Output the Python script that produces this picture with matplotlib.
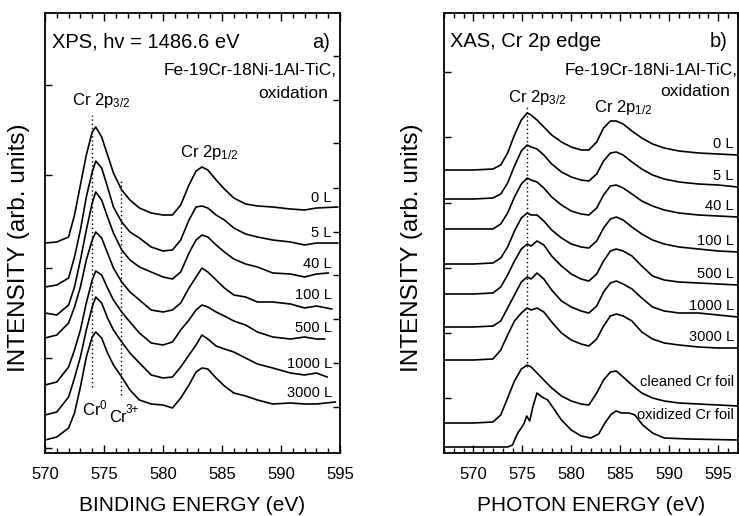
import numpy as np
import matplotlib
matplotlib.use('Agg')
import matplotlib.pyplot as plt
from matplotlib.ticker import MultipleLocator, FixedLocator

plt.rcParams['font.family'] = ['Liberation Sans', 'DejaVu Sans']
plt.rcParams['mathtext.fontset'] = 'custom'
plt.rcParams['mathtext.rm'] = 'Liberation Sans'
plt.rcParams['mathtext.it'] = 'Liberation Sans'
plt.rcParams['mathtext.default'] = 'regular'

# ---- a) XPS Cr 2p, binding energy grid (eV) ----
xps_e = [570, 571, 572, 572.5, 573, 573.5, 574, 574.3, 574.8, 575.3, 575.8, 576.5,
         577.2, 578, 579, 580, 580.8, 581.5, 582.2, 582.8, 583.3, 583.8, 584.5, 585.2,
         586, 587, 588, 589.3, 590.8, 592, 593, 594.5]
xps_labels = ['0 L', '5 L', '40 L', '100 L', '500 L', '1000 L', '3000 L']
xps_end = [594.8, 594.8, 594.0, 594.3, 593.7, 593.9, 594.6]
xps_0 = [210, 211, 216, 238, 268, 298, 321, 326, 316, 298, 280, 263, 253, 245, 240, 238,
         238, 248, 268, 282, 286, 283, 273, 264, 255, 249, 247, 246, 244, 243, 245, 246]
xps_5 = [166, 168, 175, 196, 223, 256, 281, 292, 285, 266, 246, 231, 221, 215, 206, 202,
         203, 213, 233, 246, 247, 245, 238, 233, 225, 219, 216, 213, 211, 208, 210, 210]
xps_40 = [140, 138, 148, 166, 193, 223, 250, 261, 253, 236, 220, 203, 193, 186, 181, 176,
          174, 181, 200, 213, 218, 216, 208, 201, 194, 189, 186, 180, 179, 176, 179, 180]
xps_100 = [115, 118, 130, 146, 166, 193, 213, 221, 215, 200, 185, 171, 161, 153, 143, 141,
           143, 150, 165, 176, 185, 181, 173, 165, 158, 156, 151, 151, 149, 145, 147, 144]
xps_500 = [68, 71, 86, 103, 123, 150, 173, 182, 178, 165, 153, 141, 131, 120, 110, 108,
           111, 123, 133, 143, 148, 146, 141, 137, 132, 128, 121, 116, 114, 116, 114, 114]
xps_1000 = [38, 41, 56, 75, 96, 123, 146, 156, 150, 135, 123, 111, 100, 90, 78, 75,
            76, 86, 98, 108, 118, 114, 107, 104, 101, 95, 89, 85, 80, 78, 80, 76]
xps_3000 = [13, 16, 25, 40, 66, 96, 116, 121, 115, 100, 88, 76, 63, 53, 49, 48,
            45, 55, 68, 81, 85, 84, 75, 67, 60, 57, 53, 49, 50, 49, 49, 51]
xps_curves = [xps_0, xps_5, xps_40, xps_100, xps_500, xps_1000, xps_3000]

# ---- b) XAS Cr L-edge, photon energy grid (eV) ----
xas_e = [567, 570, 572, 572.8, 573.5, 574.2, 574.9, 575.5, 575.9, 576.5, 577.2, 578,
         579, 580, 581, 581.8, 582.6, 583.3, 584.0, 584.6, 585.3, 586.2, 587.2, 588.3,
         589.5, 591, 593, 595, 597]
xas_labels = ['0 L', '5 L', '40 L', '100 L', '500 L', '1000 L', '3000 L',
              'cleaned Cr foil', 'oxidized Cr foil']
xas_0 = [283, 283, 284, 288, 300, 318, 333, 340, 338, 333, 326, 318, 311, 306, 303,
         303, 311, 325, 332, 332, 329, 322, 315, 309, 305, 302, 300, 299, 298]
xas_5 = [254, 254, 255, 259, 270, 287, 302, 308, 306, 304, 298, 289, 281, 276, 273,
         272, 279, 292, 300, 301, 298, 291, 284, 278, 274, 271, 269, 268, 266]
xas_40 = [224, 224, 224, 229, 240, 256, 269, 275, 273, 271, 265, 256, 248, 242, 239,
          238, 245, 258, 267, 268, 265, 259, 252, 247, 243, 240, 238, 237, 236]
xas_100 = [189, 189, 190, 195, 206, 222, 235, 240, 238, 238, 232, 223, 215, 209, 206,
           205, 212, 225, 234, 236, 233, 226, 219, 213, 209, 206, 204, 202, 201]
xas_500 = [159, 159, 160, 166, 178, 192, 204, 209, 207, 212, 208, 197, 187, 179, 174,
           172, 179, 192, 202, 204, 202, 197, 187, 177, 173, 171, 170, 169, 168]
xas_1000 = [126, 126, 127, 132, 145, 158, 171, 176, 174, 180, 174, 163, 152, 146, 142,
            140, 147, 161, 170, 172, 169, 164, 155, 146, 142, 140, 140, 138, 136]
xas_3000 = [93, 93, 94, 103, 118, 132, 140, 145, 143, 145, 141, 131, 120, 113, 109,
            107, 114, 127, 137, 139, 137, 132, 121, 114, 110, 108, 106, 105, 105]
xas_clean = [30, 30, 31, 38, 55, 72, 84, 88, 86, 80, 73, 65, 57, 52, 49,
             48, 60, 73, 81, 82, 76, 68, 60, 55, 52, 50, 49, 48, 47]
xas_curves = [xas_0, xas_5, xas_40, xas_100, xas_500, xas_1000, xas_3000, xas_clean]

# oxidized foil has its own sampling (multiplet structure)
oxfoil_e = [567, 573.5, 574.0, 574.3, 574.6, 574.9, 575.2, 575.45, 575.75, 576.1, 576.5,
            577.0, 577.6, 578.3, 579.0, 580, 581, 582, 582.8, 583.5, 584.1, 584.6,
            585.1, 585.9, 586.5, 587.3, 588.3, 589.5, 592, 597]
oxfoil = [6, 6, 8, 15, 21, 25, 30, 37, 32, 47, 60, 56, 53, 43, 33, 23, 17, 15, 19, 31,
          39, 42, 40, 40, 38, 28, 20, 15, 14, 13]

fig = plt.figure(figsize=(7.39, 5.16), dpi=100)
axa = fig.add_axes([0.0609, 0.1221, 0.3992, 0.8527])
axb = fig.add_axes([0.6008, 0.1221, 0.3974, 0.8527])

lw = 1.2
fs_lab = 10.5

# XPS spectra
for y, lab, xend in zip(xps_curves, xps_labels, xps_end):
    x = list(xps_e[:-1]) + [xend]
    axa.plot(x, y, color='black', lw=lw)
    axa.text(594.3, max(y[-4:]) + 9, lab, ha='right', va='center', fontsize=fs_lab)

axa.plot([574.0, 574.0], [66, 338], color='black', lw=1.0, ls=(0, (1, 2)))
axa.plot([576.4, 576.4], [58, 273], color='black', lw=1.0, ls=(0, (1, 2)))
axa.text(574.75, 353, 'Cr 2p$_{3/2}$', ha='center', va='center', fontsize=12)
axa.text(583.9, 301, 'Cr 2p$_{1/2}$', ha='center', va='center', fontsize=12)
axa.text(574.2, 45, 'Cr$^{0}$', ha='center', va='center', fontsize=12)
# oxide component label, superscript set by hand to keep "3+" tight
axa.text(576.9, 35, 'Cr', ha='right', va='center', fontsize=12)
axa.annotate('3+', xy=(576.9, 35), xytext=(-0.3, 1.5), textcoords='offset points',
             ha='left', va='bottom', fontsize=8.5)
axa.text(0.024, 0.934, 'XPS, hv = 1486.6 eV', transform=axa.transAxes,
         ha='left', va='center', fontsize=14.5)
axa.text(0.966, 0.934, 'a)', transform=axa.transAxes, ha='right', va='center', fontsize=14.5)
axa.text(0.99, 0.870, 'Fe-19Cr-18Ni-1Al-TiC,', transform=axa.transAxes,
         ha='right', va='center', fontsize=12.5)
axa.text(0.959, 0.818, 'oxidation', transform=axa.transAxes,
         ha='right', va='center', fontsize=12.5)
axa.set_xlim(570, 595)
axa.set_xlabel('BINDING ENERGY (eV)', fontsize=15)

# XAS spectra
for y, lab in zip(xas_curves, xas_labels[:-1]):
    axb.plot(xas_e, y, color='black', lw=lw)
    off = 24 if 'foil' in lab else 11
    axb.text(596.6, y[-1] + off, lab, ha='right', va='center', fontsize=fs_lab)
axb.plot(oxfoil_e, oxfoil, color='black', lw=lw)
axb.text(596.6, oxfoil[-1] + 25, xas_labels[-1], ha='right', va='center', fontsize=fs_lab)

axb.plot([575.5, 575.5], [86, 348], color='black', lw=1.0, ls=(0, (1, 2)))
axb.text(576.5, 356, 'Cr 2p$_{3/2}$', ha='center', va='center', fontsize=12)
axb.text(585.3, 346, 'Cr 2p$_{1/2}$', ha='center', va='center', fontsize=12)
axb.text(0.02, 0.935, 'XAS, Cr 2p edge', transform=axb.transAxes,
         ha='left', va='center', fontsize=14.5)
axb.text(0.967, 0.935, 'b)', transform=axb.transAxes, ha='right', va='center', fontsize=14.5)
axb.text(1.0, 0.870, 'Fe-19Cr-18Ni-1Al-TiC,', transform=axb.transAxes,
         ha='right', va='center', fontsize=12.5)
axb.text(0.974, 0.821, 'oxidation', transform=axb.transAxes,
         ha='right', va='center', fontsize=12.5)
axb.set_xlim(567, 597)
axb.set_xlabel('PHOTON ENERGY (eV)', fontsize=15)

for ax, ylc in ((axa, -0.05), (axb, -0.072)):
    ax.set_ylim(0, 440)
    ax.set_ylabel('INTENSITY (arb. units)', fontsize=17.5)
    ax.yaxis.set_label_coords(ylc, 0.467)
    ax.xaxis.set_label_coords(0.5, -0.098)
    ax.xaxis.set_major_locator(MultipleLocator(5))
    ax.xaxis.set_minor_locator(MultipleLocator(1))
    ax.tick_params(axis='x', which='both', direction='in', top=True, bottom=True,
                   labelsize=12, pad=10, width=1.0)
    ax.tick_params(axis='x', which='major', length=6)
    ax.tick_params(axis='x', which='minor', length=3.5)
    ax.tick_params(axis='y', which='both', direction='in', labelleft=False, width=1.0)
    for s in ax.spines.values():
        s.set_linewidth(1.3)

axa.yaxis.set_major_locator(FixedLocator([5, 95, 185, 278, 368]))
axa.yaxis.set_minor_locator(FixedLocator([46, 90, 134, 178, 221, 265, 310, 353, 397]))
axa.tick_params(axis='y', which='major', left=True, right=False, length=5)
axa.tick_params(axis='y', which='minor', left=False, right=True, length=5)
axb.yaxis.set_major_locator(FixedLocator([55, 120, 185, 250, 316, 381]))
axb.tick_params(axis='y', which='major', left=True, right=False, length=5)

fig.savefig('out.png', dpi=100)
